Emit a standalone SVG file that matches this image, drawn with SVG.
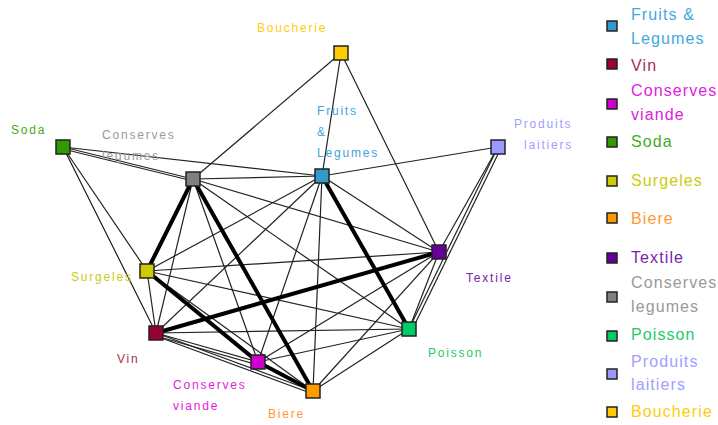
<svg xmlns="http://www.w3.org/2000/svg" width="718" height="425" viewBox="0 0 718 425">
<style>
.e{stroke:#222;stroke-width:1.2;fill:none}
.t{stroke:#000;stroke-width:4;fill:none}
.n{stroke:#222;stroke-width:1.5}
.lb{font-family:"Liberation Sans",Arial,sans-serif;font-size:12px;letter-spacing:1.8px}
.lg{font-family:"Liberation Sans",Arial,sans-serif;font-size:16px;letter-spacing:1.1px}
</style>
<rect width="718" height="425" fill="#fff"/>
<g id="connectors">
<line class="e" x1="63" y1="147" x2="193" y2="179"/>
<line class="e" x1="63" y1="149" x2="193" y2="181"/>
<line class="e" x1="63" y1="147" x2="322" y2="176"/>
<line class="e" x1="63" y1="147" x2="147" y2="271"/>
<line class="e" x1="63" y1="147" x2="156" y2="333"/>
<line class="e" x1="341" y1="53" x2="193" y2="179"/>
<line class="e" x1="341" y1="53" x2="322" y2="176"/>
<line class="e" x1="341" y1="53" x2="439" y2="252"/>
<line class="e" x1="498" y1="147" x2="322" y2="176"/>
<line class="e" x1="498" y1="147" x2="439" y2="252"/>
<line class="e" x1="498" y1="147" x2="409" y2="329"/>
<line class="e" x1="501" y1="148" x2="412" y2="330"/>
<line class="e" x1="322" y1="176" x2="193" y2="179"/>
<line class="e" x1="322" y1="176" x2="439" y2="252"/>
<line class="e" x1="322" y1="176" x2="147" y2="271"/>
<line class="e" x1="322" y1="176" x2="156" y2="333"/>
<line class="e" x1="322" y1="176" x2="258" y2="362"/>
<line class="e" x1="322" y1="176" x2="313" y2="391"/>
<line class="e" x1="193" y1="179" x2="439" y2="252"/>
<line class="e" x1="193" y1="179" x2="409" y2="329"/>
<line class="e" x1="193" y1="179" x2="156" y2="333"/>
<line class="e" x1="193" y1="179" x2="258" y2="362"/>
<line class="e" x1="439" y1="252" x2="147" y2="271"/>
<line class="e" x1="439" y1="252" x2="409" y2="329"/>
<line class="e" x1="439" y1="252" x2="258" y2="362"/>
<line class="e" x1="439" y1="252" x2="313" y2="391"/>
<line class="e" x1="147" y1="271" x2="409" y2="329"/>
<line class="e" x1="147" y1="271" x2="156" y2="333"/>
<line class="e" x1="147" y1="271" x2="313" y2="391"/>
<line class="e" x1="409" y1="329" x2="156" y2="333"/>
<line class="e" x1="409" y1="329" x2="258" y2="362"/>
<line class="e" x1="409" y1="329" x2="313" y2="391"/>
<line class="e" x1="156" y1="333" x2="258" y2="362"/>
<line class="e" x1="156" y1="336" x2="258" y2="365"/>
<line class="e" x1="156" y1="333" x2="313" y2="391"/>
<line class="e" x1="156" y1="336" x2="313" y2="394"/>
<line class="t" x1="322" y1="176" x2="409" y2="329"/>
<line class="t" x1="193" y1="179" x2="147" y2="271"/>
<line class="t" x1="193" y1="179" x2="313" y2="391"/>
<line class="t" x1="439" y1="252" x2="156" y2="333"/>
<line class="t" x1="147" y1="271" x2="258" y2="362"/>
<line class="t" x1="258" y1="362" x2="313" y2="391"/>
</g>
<g id="n-boucherie"><rect class="n" x="334" y="46" width="14" height="14" fill="#ffcc00"/><text class="lb" x="257" y="32" fill="#ffcc11">Boucherie</text></g>
<g id="n-fruits"><rect class="n" x="315" y="169" width="14" height="14" fill="#3399cc"/><text class="lb" fill="#3ea3d8"><tspan x="317" y="115">Fruits</tspan><tspan x="317" y="136">&amp;</tspan><tspan x="317" y="157">Legumes</tspan></text></g>
<g id="n-produits"><rect class="n" x="491" y="140" width="14" height="14" fill="#9999ff"/><text class="lb" fill="#a0a0ff"><tspan x="514" y="128">Produits</tspan><tspan x="524" y="149">laitiers</tspan></text></g>
<g id="n-soda"><rect class="n" x="56" y="140" width="14" height="14" fill="#339900"/><text class="lb" x="11" y="134" fill="#44aa22">Soda</text></g>
<g id="n-conslegumes"><rect class="n" x="186" y="172" width="14" height="14" fill="#808080"/><text class="lb" fill="#999999"><tspan x="102" y="139">Conserves</tspan><tspan x="102" y="160">legumes</tspan></text></g>
<g id="n-textile"><rect class="n" x="432" y="245" width="14" height="14" fill="#660099"/><text class="lb" x="466" y="282" fill="#7722aa">Textile</text></g>
<g id="n-surgeles"><rect class="n" x="140" y="264" width="14" height="14" fill="#cccc00"/><text class="lb" x="71" y="281" fill="#cccc11">Surgeles</text></g>
<g id="n-poisson"><rect class="n" x="402" y="322" width="14" height="14" fill="#00cc66"/><text class="lb" x="428" y="357" fill="#22cc66">Poisson</text></g>
<g id="n-vin"><rect class="n" x="149" y="326" width="14" height="14" fill="#990033"/><text class="lb" x="117" y="363" fill="#aa2d4d">Vin</text></g>
<g id="n-consviande"><rect class="n" x="251" y="355" width="14" height="14" fill="#cc00cc"/><text class="lb" fill="#dd22dd"><tspan x="173" y="389">Conserves</tspan><tspan x="173" y="410">viande</tspan></text></g>
<g id="n-biere"><rect class="n" x="306" y="384" width="14" height="14" fill="#ff9900"/><text class="lb" x="268" y="418" fill="#ff9933">Biere</text></g>
<g id="legend">
<rect class="n" x="607" y="21" width="10" height="10" fill="#3399cc"/><text class="lg" fill="#44a8dd"><tspan x="631" y="20">Fruits &amp;</tspan><tspan x="631" y="44">Legumes</tspan></text>
<rect class="n" x="607" y="59" width="10" height="10" fill="#990033"/><text class="lg" x="631" y="71" fill="#aa2d4d">Vin</text>
<rect class="n" x="607" y="99" width="10" height="10" fill="#cc00cc"/><text class="lg" fill="#dd22dd"><tspan x="631" y="96">Conserves</tspan><tspan x="631" y="120">viande</tspan></text>
<rect class="n" x="607" y="137" width="10" height="10" fill="#339900"/><text class="lg" x="631" y="147" fill="#44aa22">Soda</text>
<rect class="n" x="607" y="176" width="10" height="10" fill="#cccc00"/><text class="lg" x="631" y="186" fill="#cccc11">Surgeles</text>
<rect class="n" x="607" y="213" width="10" height="10" fill="#ff9900"/><text class="lg" x="631" y="224" fill="#ff9933">Biere</text>
<rect class="n" x="607" y="253" width="10" height="10" fill="#660099"/><text class="lg" x="631" y="263" fill="#7722aa">Textile</text>
<rect class="n" x="607" y="292" width="10" height="10" fill="#808080"/><text class="lg" fill="#999999"><tspan x="631" y="288">Conserves</tspan><tspan x="631" y="312">legumes</tspan></text>
<rect class="n" x="607" y="331" width="10" height="10" fill="#00cc66"/><text class="lg" x="631" y="340" fill="#22cc66">Poisson</text>
<rect class="n" x="607" y="369" width="10" height="10" fill="#9999ff"/><text class="lg" fill="#a0a0ff"><tspan x="631" y="367">Produits</tspan><tspan x="631" y="390">laitiers</tspan></text>
<rect class="n" x="607" y="407" width="10" height="10" fill="#ffcc00"/><text class="lg" x="631" y="417" fill="#ffcc11">Boucherie</text>
</g>
</svg>
